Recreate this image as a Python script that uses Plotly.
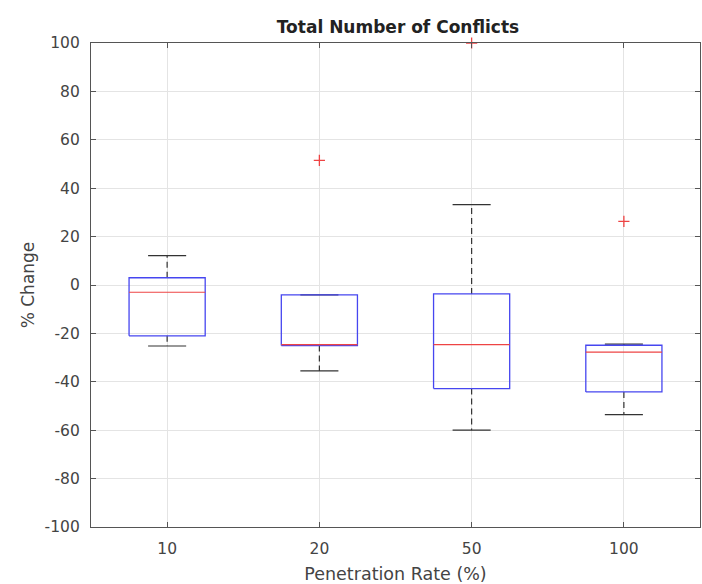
import plotly.graph_objects as go

# ---- data ----
categories = ["10", "20", "50", "100"]
q1 = [-21.0, -25.0, -42.8, -44.2]
median = [-3.0, -24.6, -24.6, -27.7]
q3 = [3.0, -4.1, -3.7, -24.9]
lower_whisker = [-25.2, -35.5, -60.0, -53.6]
upper_whisker = [12.1, -4.1, 33.2, -24.4]
outlier_category = ["20", "50", "100"]
outlier_value = [51.5, 100.0, 26.3]
y_ticks = list(range(-100, 101, 20))
y_tick_labels = [str(v) for v in y_ticks]

pos = list(range(1, len(categories) + 1))
half = 0.25   # half box width (MATLAB default width 0.5)
cap = 0.125   # half whisker-cap width

BLUE = "#4646f0"
RED = "#ee4444"
BLACK = "#333333"
FONT = "DejaVu Sans, Verdana, sans-serif"

wx, wy, cx, cy, bx, by, mx, my = [], [], [], [], [], [], [], []
for p, a, m, b, lo, hi in zip(pos, q1, median, q3, lower_whisker, upper_whisker):
    wx += [p, p, None, p, p, None]
    wy += [b, hi, None, a, lo, None]
    cx += [p - cap, p + cap, None, p - cap, p + cap, None]
    cy += [hi, hi, None, lo, lo, None]
    bx += [p - half, p + half, p + half, p - half, p - half, None]
    by += [a, a, b, b, a, None]
    mx += [p - half, p + half, None]
    my += [m, m, None]

fig = go.Figure()
fig.add_trace(go.Scatter(x=wx, y=wy, mode="lines", line=dict(color=BLACK, width=1.2, dash="6px,4px"),
                         hoverinfo="skip", showlegend=False))
fig.add_trace(go.Scatter(x=cx, y=cy, mode="lines", line=dict(color=BLACK, width=1.2),
                         hoverinfo="skip", showlegend=False))
fig.add_trace(go.Scatter(x=bx, y=by, mode="lines", line=dict(color=BLUE, width=1.3),
                         hoverinfo="skip", showlegend=False))
fig.add_trace(go.Scatter(x=mx, y=my, mode="lines", line=dict(color=RED, width=1.2),
                         hoverinfo="skip", showlegend=False))
fig.add_trace(go.Scatter(x=[pos[categories.index(c)] for c in outlier_category], y=outlier_value,
                         mode="markers", cliponaxis=False, hoverinfo="skip",
                         marker=dict(symbol="cross-thin", size=8, line=dict(color=RED, width=1.3)),
                         showlegend=False))

axis_common = dict(
    showgrid=True, gridcolor="#e4e4e4", gridwidth=1,
    showline=True, linecolor="#555555", linewidth=1.2, mirror="ticks",
    ticks="inside", ticklen=5, tickcolor="#555555",
    tickfont=dict(family=FONT, size=15.5, color="#444444"),
    zeroline=False,
)

fig.update_layout(
    width=702, height=584,
    margin=dict(l=91, r=2, t=43, b=57),
    paper_bgcolor="white", plot_bgcolor="white",
    hovermode=False,
    font=dict(family=FONT, color="#444444"),
    title=dict(text="<b>Total Number of Conflicts</b>", x=398 / 702, xanchor="center",
               yref="container", y=1 - 27 / 584, yanchor="middle",
               font=dict(family=FONT, size=17, color="#222222")),
    xaxis=dict(range=[0.5, 4.5], tickvals=pos, ticktext=categories, ticklabelstandoff=7,
               title=dict(text="Penetration Rate (%)", font=dict(family=FONT, size=17.5, color="#444444"),
                          standoff=11),
               **axis_common),
    yaxis=dict(range=[-100, 100], tickvals=y_ticks, ticktext=y_tick_labels, ticklabelstandoff=7,
               title=dict(text="% Change", font=dict(family=FONT, size=17, color="#444444"),
                          standoff=5),
               **axis_common),
)

# remove the page's default 8px body margin so the 702x584 figure fills the window exactly
fig.write_html("out.html",
               config={"displayModeBar": False},
               post_script="document.body.style.margin='0';document.body.style.overflow='hidden';")
